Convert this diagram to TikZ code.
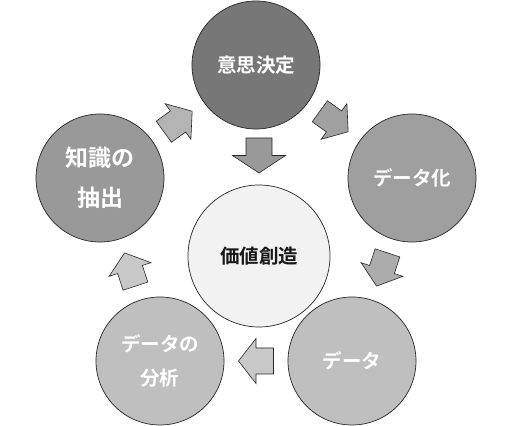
\documentclass[tikz,border=0pt]{standalone}
\usepackage{fontspec}
\newfontfamily\jpb{Noto Sans CJK JP Bold}
\usetikzlibrary{calc}
\tikzset{
  x=1pt, y=1pt,
  stage/.style={circle, draw=black!85, line width=0.7pt, minimum size=128pt, inner sep=0pt,
    text=white, align=center, font=\jpb\fontsize{19.5}{34}\selectfont},
  core/.style={circle, draw=black!85, line width=0.7pt, minimum size=142pt, inner sep=0pt,
    fill=corefill, text=black!90, font=\jpb\fontsize{19.5}{24}\selectfont},
  arrowbox/.style={draw=black!85, line width=0.6pt, line join=miter},
}
\definecolor{topfill}{HTML}{777777}
\definecolor{rightfill}{HTML}{9F9F9F}
\definecolor{leftfill}{HTML}{999999}
\definecolor{lowfill}{HTML}{BFBFBF}
\definecolor{corefill}{HTML}{F2F2F2}
\definecolor{arA}{HTML}{B4B4B4}
\definecolor{arB}{HTML}{A0A0A0}
\definecolor{arC}{HTML}{999999}
\definecolor{arD}{HTML}{ACACAC}
\definecolor{arE}{HTML}{C8C8C8}
% #1 fill, #2 head half width
\newcommand{\blockshape}[2]{%
  \fill[#1] (-17.5,-13) -- (0,-13) -- (0,-#2) -- (17.5,0) -- (0,#2) -- (0,13) -- (-17.5,13) -- cycle;
  \draw[arrowbox] (-17.5,-13) -- (0,-13) -- (0,-#2) -- (17.5,0) -- (0,#2) -- (0,13) -- (-17.5,13) -- cycle;
}
\begin{document}
\begin{tikzpicture}
\useasboundingbox (0,0) rectangle (512,426);
\node[stage, fill=topfill] (decide) at (256,361) {意思決定};
\node[stage, fill=rightfill] (datafy) at (412,248) {データ化};
\node[stage, fill=lowfill] (data) at (352,65) {データ};
\node[stage, fill=lowfill, font=\jpb\fontsize{19.5}{34}\selectfont] (analysis) at (160,65) {データの\\分析};
\node[stage, fill=leftfill, font=\jpb\fontsize{23}{40}\selectfont] (knowledge) at (100,248) {知識の\\抽出};
\node[core] (value) at (259,170) {価値創造};
\coordinate (downpos) at ($(value.center)+(0,100.5)$);

\begin{scope}[shift={($(knowledge)!0.5!(decide)$)}, rotate=35.9]
  \blockshape{arA}{22}
\end{scope}
\begin{scope}[shift={($(decide)!0.5!(datafy)$)}, rotate=-35.9]
  \blockshape{arB}{22}
\end{scope}
\begin{scope}[shift={($(datafy)!0.5!(data)$)}, rotate=-108.15]
  \blockshape{arD}{22}
\end{scope}
\begin{scope}[shift={($(data)!0.5!(analysis)$)}, rotate=180]
  \blockshape{arE}{22.5}
\end{scope}
\begin{scope}[shift={($(analysis)!0.5!(knowledge)$)}, rotate=108.15]
  \blockshape{arE}{22}
\end{scope}
\begin{scope}[shift={(downpos)}, rotate=-90]
  \blockshape{arC}{26.5}
\end{scope}
\end{tikzpicture}
\end{document}
